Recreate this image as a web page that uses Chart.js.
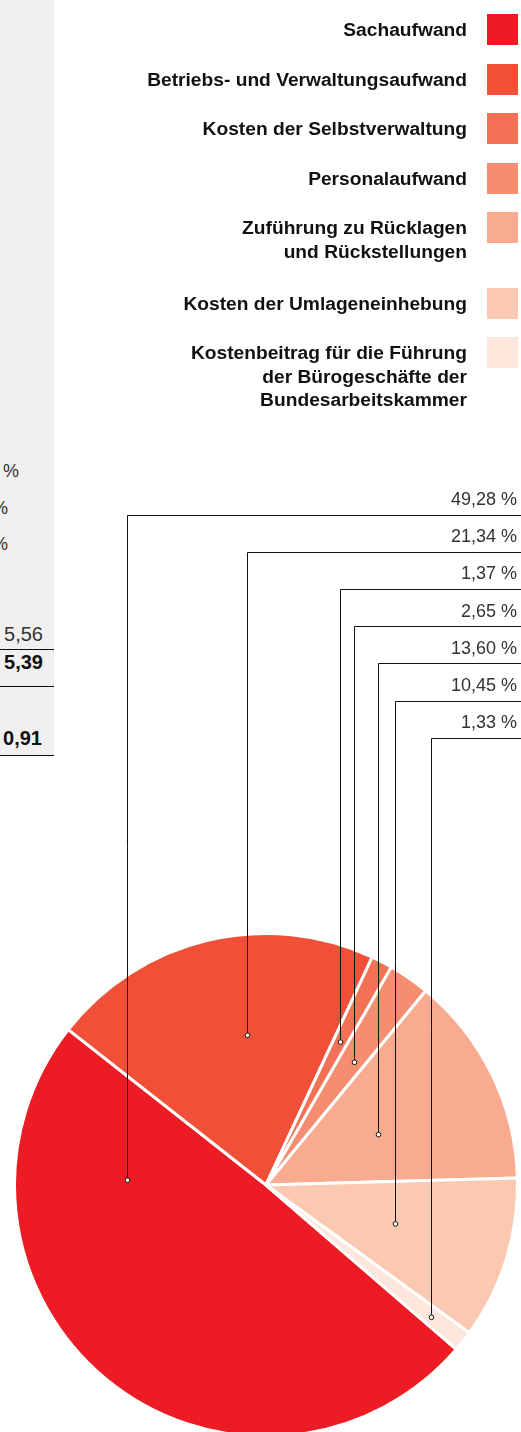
<!DOCTYPE html>
<html lang="de">
<head>
<meta charset="utf-8">
<title>Aufwand</title>
<script src="https://cdn.jsdelivr.net/npm/chart.js@4/dist/chart.umd.min.js"></script>
<style>
  html, body { margin: 0; padding: 0; background: #fff; }
  body { width: 521px; height: 1432px; position: relative; overflow: hidden;
         font-family: "Liberation Sans", Arial, sans-serif; color: #111; }
  #side { position: absolute; left: 0; top: 0; width: 54px; height: 757px; background: #f0f0f0; }
  #side .t { position: absolute; right: 11px; font-size: 20px; line-height: 22px; color: #333; white-space: nowrap; }
  #side .p { font-size: 18px; }
  #side .b { font-weight: bold; color: #111; }
  #side .rule { position: absolute; left: 0; width: 54px; height: 0; border-top: 1.5px solid #111; }
  #chart { position: absolute; left: 0; top: 0; }
  #legend { position: absolute; left: 0; top: 0; width: 521px; }
  .row { position: absolute; right: 3px; display: flex; align-items: flex-start; }
  .row .txt { text-align: right; font-weight: bold; font-size: 19.2px; line-height: 23.5px;
              margin-top: 4px; margin-right: 20px; white-space: nowrap; }
  .row .sw { width: 31px; height: 31px; flex: none; }
</style>
</head>
<body>
<div id="side">
  <div class="t p" style="top:460px; right:35px;">%</div>
  <div class="t p" style="top:497px; right:46px;">%</div>
  <div class="t p" style="top:533px; right:46px;">%</div>
  <div class="t" style="top:623px;">5,56</div>
  <div class="rule" style="top:649px;"></div>
  <div class="t b" style="top:651px;">5,39</div>
  <div class="rule" style="top:686px;"></div>
  <div class="t b" style="top:727px; right:12px;">0,91</div>
  <div class="rule" style="top:755px;"></div>
</div>
<canvas id="chart" width="521" height="1432"></canvas>
<div id="legend"></div>
<script>
// Aufwandsstruktur in Prozent, im Uhrzeigersinn ab Sachaufwand
const categories = [
  ["Sachaufwand"],
  ["Betriebs- und Verwaltungsaufwand"],
  ["Kosten der Selbstverwaltung"],
  ["Personalaufwand"],
  ["Zuführung zu Rücklagen", "und Rückstellungen"],
  ["Kosten der Umlageneinhebung"],
  ["Kostenbeitrag für die Führung", "der Bürogeschäfte der", "Bundesarbeitskammer"]
];
const shares = [49.28, 21.34, 1.37, 2.65, 13.60, 10.45, 1.33];
const colors = ["#ed1c24", "#f05038", "#f37155", "#f58e70", "#f9ab8f", "#fbc8b2", "#fde6dc"];

// where each leader line ends inside its slice: [fraction of the sweep, fraction of the radius]
const anchors = [[0.796, 0.552], [0.58, 0.60], [0.49, 0.64], [0.60, 0.60], [0.54, 0.49], [0.49, 0.535], [0.58, 0.84]];

const fmt = v => v.toFixed(2).replace(".", ",") + " %";

// legend rows on the right
(function buildLegend() {
  const box = document.getElementById("legend");
  let top = 14;
  categories.forEach((lines, i) => {
    const row = document.createElement("div");
    row.className = "row";
    row.style.top = top + "px";
    const txt = document.createElement("div");
    txt.className = "txt";
    txt.innerHTML = lines.join("<br>");
    const sw = document.createElement("div");
    sw.className = "sw";
    sw.style.background = colors[i];
    row.appendChild(txt);
    row.appendChild(sw);
    box.appendChild(row);
    top += 49.5 + 26 * (lines.length - 1);
  });
})();

/* leader lines: value label top right, rule to the edge, drop to a small ring in the slice */
const leaders = {
  id: "leaders",
  afterDatasetsDraw(chart) {
    const c = chart.ctx;
    const arcs = chart.getDatasetMeta(0).data;
    c.save();
    c.font = "18px 'Liberation Sans', Arial, sans-serif";
    c.textAlign = "right";
    c.textBaseline = "middle";
    arcs.forEach((arc, i) => {
      const p = arc.getProps(["x", "y", "startAngle", "endAngle", "outerRadius"], true);
      const a = p.startAngle + (p.endAngle - p.startAngle) * anchors[i][0];
      const r = p.outerRadius * anchors[i][1];
      const mx = Math.round(p.x + Math.cos(a) * r) + 0.5;
      const my = p.y + Math.sin(a) * r;
      const rowY = 500 + i * 37.2;
      const lineY = Math.round(rowY + 14.5) + 0.5;

      c.fillStyle = "#333";
      c.fillText(fmt(shares[i]), 517, rowY);

      c.strokeStyle = "#111";
      c.lineWidth = 1;
      c.beginPath();
      c.moveTo(521, lineY);
      c.lineTo(mx, lineY);
      c.lineTo(mx, my - 2.5);
      c.stroke();

      c.beginPath();
      c.arc(mx, my, 2.3, 0, Math.PI * 2);
      c.fillStyle = "#fff";
      c.fill();
      c.stroke();
    });
    c.restore();
  }
};

new Chart(document.getElementById("chart"), {
  type: "pie",
  data: {
    labels: categories.map(l => l.join(" ")),
    datasets: [{
      data: shares,
      backgroundColor: colors,
      borderColor: "#fff",
      borderWidth: 3,
      clip: false
    }]
  },
  options: {
    responsive: false,
    devicePixelRatio: 1,
    animation: false,
    rotation: 130.8,
    radius: 251.5,
    layout: { padding: { left: 11, right: 0, top: 938, bottom: 0 } },
    plugins: { legend: { display: false }, tooltip: { enabled: false } }
  },
  plugins: [leaders]
});
</script>
</body>
</html>
